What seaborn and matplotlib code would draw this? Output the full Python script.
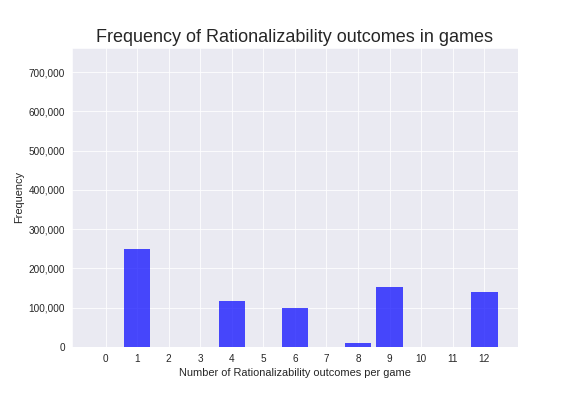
import matplotlib
matplotlib.use("Agg")
import matplotlib.pyplot as plt
import seaborn as sns
import pandas as pd
from matplotlib.ticker import FuncFormatter

# values
outcomes = [1, 4, 6, 8, 9, 12]
frequency = [250000, 117000, 99000, 11000, 153500, 140000]
tick_values = list(range(13))

sns.set_style("darkgrid", {"grid.linewidth": 1.2})
plt.rcParams['font.family'] = ['Liberation Sans', 'DejaVu Sans']

df = pd.DataFrame({"outcomes": outcomes, "frequency": frequency})

fig, ax = plt.subplots(figsize=(8, 5.5), dpi=72)
fig.subplots_adjust(left=0.125, right=0.899, bottom=0.124, top=0.879)

sns.barplot(x="outcomes", y="frequency", data=df, native_scale=True, width=0.84,
            color="blue", saturation=1, alpha=0.7, linewidth=0, errorbar=None, ax=ax)

ax.set_xticks(tick_values)
ax.set_xticklabels([str(t) for t in tick_values], fontsize=10)
ax.set_xlim(-1.062, 13.062)
ax.set_ylim(0, 762000)
ax.yaxis.set_major_formatter(FuncFormatter(lambda v, p: format(int(v), ',')))
ax.tick_params(axis='y', labelsize=10)

ax.set_xlabel("Number of Rationalizability outcomes per game", fontsize=11)
ax.set_ylabel("Frequency", fontsize=11)
ax.set_title("Frequency of Rationalizability outcomes in games", fontsize=18)

plt.savefig("out.png")
plt.close('all')
